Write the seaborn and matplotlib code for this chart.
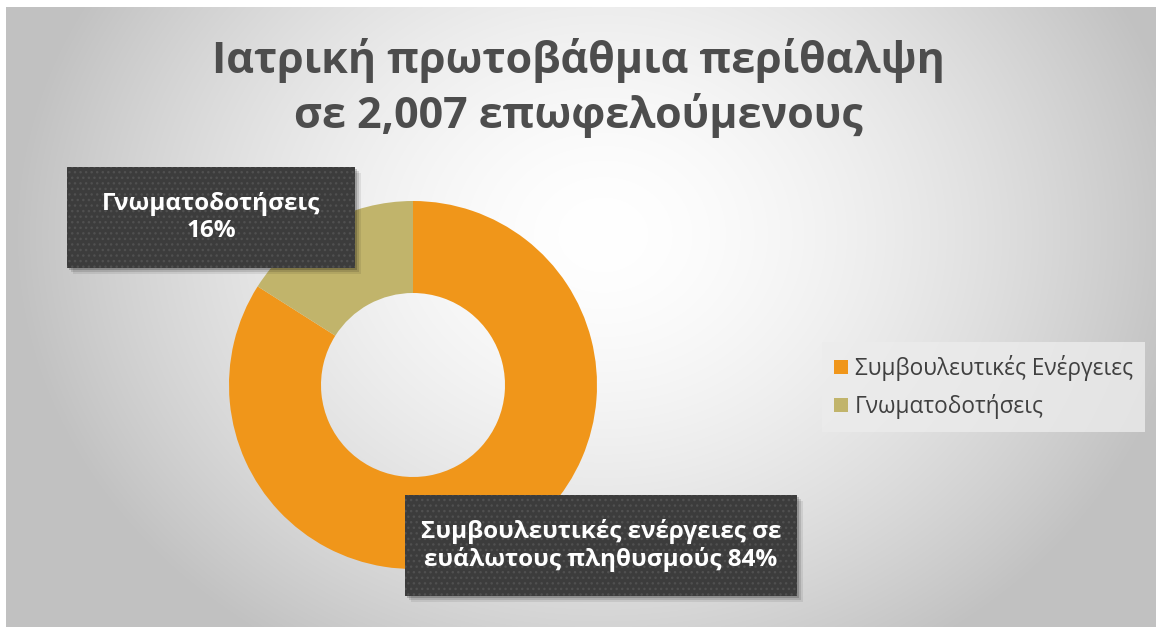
import numpy as np
import matplotlib
matplotlib.use("Agg")
import matplotlib.pyplot as plt
import seaborn as sns
from matplotlib.patches import Rectangle, Patch

# Data
categories = ["Συμβουλευτικές Ενέργειες", "Γνωματοδοτήσεις"]
shares = [84, 16]
box_labels = ["Συμβουλευτικές ενέργειες σε\nευάλωτους πληθυσμούς 84%", "Γνωματοδοτήσεις\n16%"]
title = "Ιατρική πρωτοβάθμια περίθαλψη\nσε 2,007 επωφελούμενους"

sns.set_theme(style="white")
plt.rcParams['font.family'] = ['Open Sans', 'DejaVu Sans']
colors = sns.color_palette(["#F0961A", "#C1B46B"])

W, H = 1156, 627
fig = plt.figure(figsize=(W / 100, H / 100), dpi=100)
fig.patch.set_facecolor("white")

def fx(px):
    return px / W

def fy(py):
    return 1 - py / H

# background: radial gradient
bg = fig.add_axes([fx(6), 0, 1 - fx(6), 1 - 7 / H])
yy, xx = np.mgrid[0:H, 0:W]
d = np.sqrt(((xx - 600) / 620.0) ** 2 + ((yy - 230) / 520.0) ** 2)
shade = np.clip(1.0 - 0.26 * d ** 1.6, 0.76, 1.0)
bg.imshow(np.dstack([shade] * 3), aspect="auto", extent=[0, 1, 0, 1])
bg.set_axis_off()

# donut
cx, cy, r = 413, 385, 184
ax = fig.add_axes([fx(cx - r), fy(cy + r), 2 * r / W, 2 * r / H])
ax.pie(shares, colors=colors, startangle=90, counterclock=False,
       radius=1, wedgeprops=dict(width=0.5, linewidth=0))
ax.set_xlim(-1, 1)
ax.set_ylim(-1, 1)
ax.set_aspect("equal")
ax.set_axis_off()

fig.text(0.5, fy(88), title, ha="center", va="center", fontsize=31,
         fontweight="bold", color="#4d4d4d", linespacing=1.3)

# data label boxes (with shadow)
boxes = [(405, 495, 797, 596), (67, 167, 355, 268)]
for (x0, y0, x1, y1), txt in zip(boxes, box_labels):
    for k, a in [(6, 0.08), (4, 0.12), (2, 0.18)]:
        fig.patches.append(Rectangle((fx(x0 + k), fy(y1 + k)), fx(x1 - x0), (y1 - y0) / H,
                                     transform=fig.transFigure, facecolor="black",
                                     alpha=a, linewidth=0, zorder=3))
    fig.patches.append(Rectangle((fx(x0), fy(y1)), fx(x1 - x0), (y1 - y0) / H,
                                 transform=fig.transFigure, facecolor="#3c3c3c",
                                 edgecolor="#505050", hatch="...", linewidth=0, zorder=4))
    fig.text(fx((x0 + x1) / 2), fy((y0 + y1) / 2), txt, ha="center", va="center",
             fontsize=17.5, fontweight="bold", color="white", zorder=5, linespacing=1.2)

# legend
handles = [Patch(facecolor=c, edgecolor="none") for c in colors]
leg = fig.legend(handles, categories, loc="center left",
                 bbox_to_anchor=(fx(822), fy(387)), frameon=True, fontsize=16.3,
                 handlelength=0.6, handleheight=0.6, handletextpad=0.3,
                 labelspacing=0.6, borderpad=0.55, borderaxespad=0, fancybox=False)
leg.get_frame().set_facecolor("#ececec")
leg.get_frame().set_edgecolor("none")
for t in leg.get_texts():
    t.set_color("#404040")

fig.savefig("out.png", dpi=100)
